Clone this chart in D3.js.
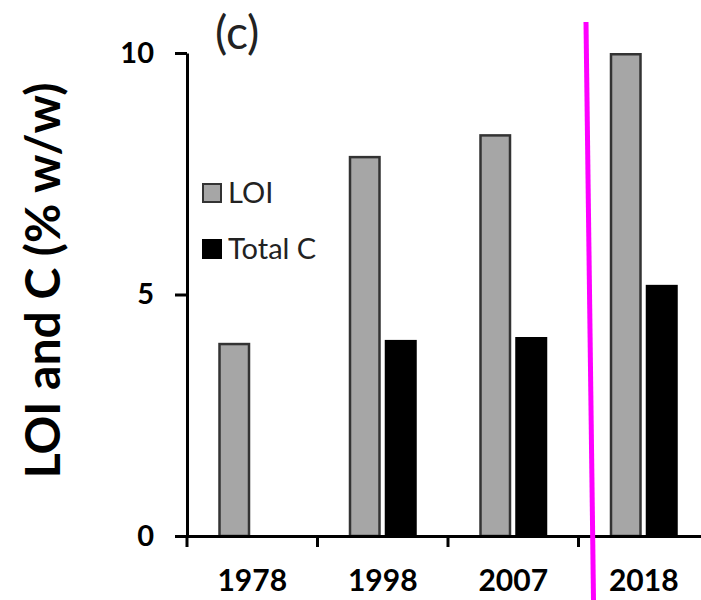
<!DOCTYPE html>
<html>
<head>
<meta charset="utf-8">
<script src="https://cdn.jsdelivr.net/npm/d3@7"></script>
<style>
  body { margin: 0; background: #fff; }
  svg { display: block; }
  .tick text { font-family: Lato, "Open Sans", sans-serif; font-weight: bold; fill: #000; }
</style>
</head>
<body>
<div id="chart"></div>
<script>
// data
var years  = ["1978", "1998", "2007", "2018"];
var series = ["LOI", "Total C"];
var loi    = [4.0, 7.87, 8.32, 10.0];
var totalC = [null, 4.06, 4.12, 5.2];
var yTicks = [0, 5, 10];

var W = 701, H = 600;

var svg = d3.select("#chart").append("svg")
    .attr("width", W)
    .attr("height", H);

// scales
var x = d3.scaleBand().domain(years).range([187, 709]).padding(0);
var bw = x.bandwidth();
var xSub = d3.scaleBand().domain(series)
    .range([bw / 2 - 34, bw / 2 + 34])
    .paddingInner(0.111);
var y = d3.scaleLinear().domain([0, 10]).range([536, 53]);

var rows = years.map(function (yr, i) {
  return { year: yr, loi: loi[i], c: totalC[i] };
});

// bars - LOI
svg.append("g").selectAll("rect")
  .data(rows)
  .enter().append("rect")
    .attr("x", function (d) { return x(d.year) + xSub("LOI") + 1.25; })
    .attr("y", function (d) { return y(d.loi) + 1.25; })
    .attr("width", xSub.bandwidth() - 2.5)
    .attr("height", function (d) { return y(0) - y(d.loi) - 1.25; })
    .attr("fill", "#a6a6a6")
    .attr("stroke", "#333")
    .attr("stroke-width", 2.5);

// bars - Total C
svg.append("g").selectAll("rect")
  .data(rows.filter(function (d) { return d.c != null; }))
  .enter().append("rect")
    .attr("x", function (d) { return x(d.year) + xSub("Total C"); })
    .attr("y", function (d) { return y(d.c); })
    .attr("width", xSub.bandwidth())
    .attr("height", function (d) { return y(0) - y(d.c); })
    .attr("fill", "#000");

// y axis
var yAxis = svg.append("g")
  .attr("transform", "translate(" + x.range()[0] + ",0)")
  .call(d3.axisLeft(y).tickValues(yTicks).tickSize(12).tickPadding(21).tickSizeOuter(0));
yAxis.select(".domain").attr("stroke-width", 3);
yAxis.selectAll(".tick line").attr("stroke-width", 3);
yAxis.selectAll(".tick text").style("font-size", "29px");

// x axis: labels centred, ticks at the band edges
var xAxis = svg.append("g")
  .attr("transform", "translate(0," + y(0) + ")")
  .call(d3.axisBottom(x).tickSize(0).tickPadding(34).tickSizeOuter(0));
xAxis.select(".domain").attr("stroke-width", 3);
xAxis.selectAll(".tick text").style("font-size", "30px");

xAxis.selectAll(".edge")
  .data(years)
  .enter().append("line")
    .attr("class", "edge")
    .attr("x1", function (d) { return x(d); })
    .attr("x2", function (d) { return x(d); })
    .attr("y1", 0)
    .attr("y2", 11)
    .attr("stroke", "#000")
    .attr("stroke-width", 3);

// y axis title
svg.append("text")
  .attr("transform", "translate(60," + (y(0) + y(10)) / 2.1 + ") rotate(-90)")
  .attr("text-anchor", "middle")
  .style("font-family", "Lato, 'Open Sans', sans-serif")
  .style("font-weight", "bold")
  .style("font-size", "48px")
  .text("LOI and C (% w/w)");

// panel label
svg.append("text")
  .attr("x", 215)
  .attr("y", 49)
  .style("font-family", "Lato, 'Open Sans', sans-serif")
  .style("font-size", "46px")
  .style("fill", "#222")
  .text("(c)");

// legend
var legend = svg.append("g").attr("transform", "translate(202,183)");
series.forEach(function (s, i) {
  var g = legend.append("g").attr("transform", "translate(0," + (i * 56) + ")");
  g.append("rect")
    .attr("x", s == "LOI" ? 1 : 0)
    .attr("y", s == "LOI" ? 1 : 0)
    .attr("width", s == "LOI" ? 18 : 20)
    .attr("height", s == "LOI" ? 18 : 20)
    .attr("fill", s == "LOI" ? "#a6a6a6" : "#000")
    .attr("stroke", s == "LOI" ? "#333" : "none")
    .attr("stroke-width", 2);
  g.append("text")
    .attr("x", 26)
    .attr("y", 10)
    .attr("dy", "0.36em")
    .style("font-family", "Lato, 'Open Sans', sans-serif")
    .style("font-size", "29px")
    .style("fill", "#222")
    .text(s);
});

// magenta marker line, just right of the 2018 band edge
svg.append("line")
  .attr("x1", x("2018") + 7.5)
  .attr("y1", 22)
  .attr("x2", x("2018") + 15)
  .attr("y2", H)
  .attr("stroke", "#ff00ff")
  .attr("stroke-width", 5);
</script>
</body>
</html>
